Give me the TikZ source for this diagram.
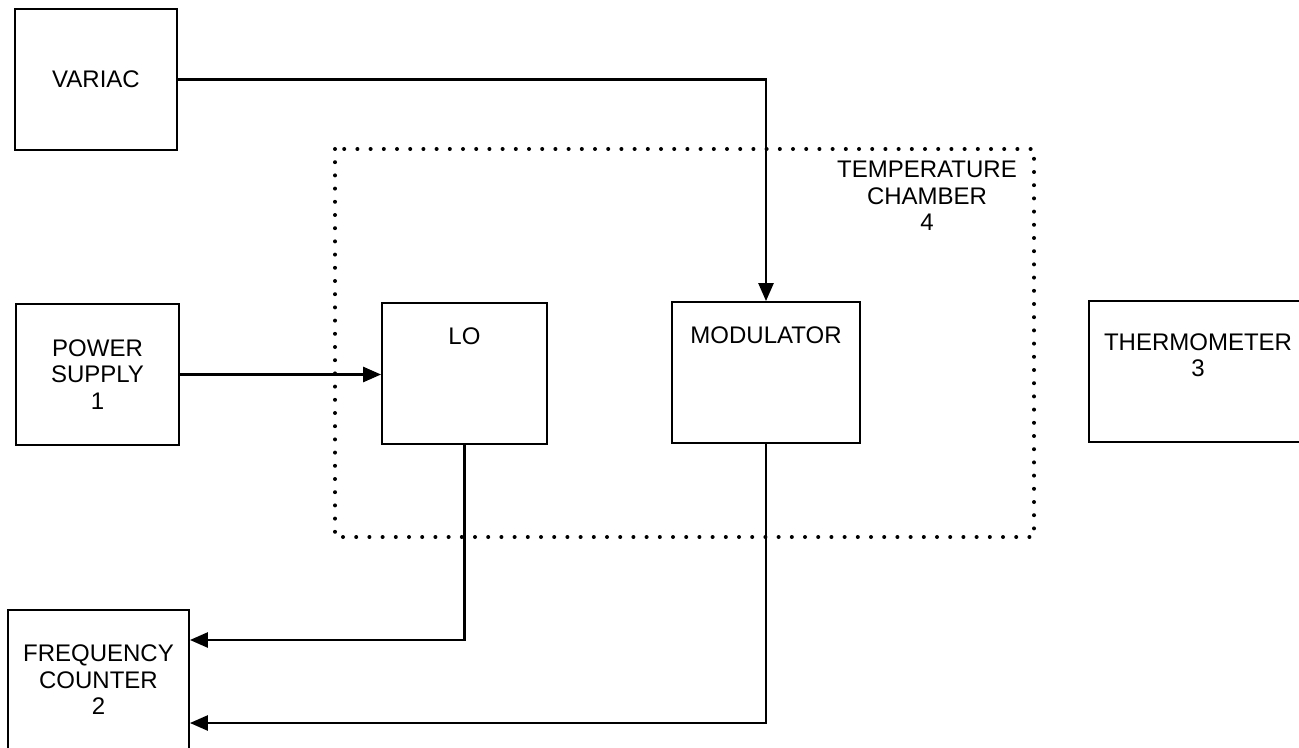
\documentclass[tikz,border=0pt]{standalone}
\usepackage{fontspec}
\setmainfont{Liberation Sans}
\usetikzlibrary{arrows.meta,positioning}
\tikzset{
    block/.style={draw, line width=0.9pt, inner sep=0pt, align=center, minimum height=70.5pt},
    toplabel/.style={anchor=north, inner sep=0pt, align=center},
    wire/.style={draw, line width=1.3pt, -{Triangle[length=9pt,width=7.5pt]}},
    chamber/.style={draw, line width=2pt, line cap=round, dash pattern=on 0pt off 6.6pt},
}
\begin{document}
\begin{tikzpicture}[x=0.5pt, y=-0.5pt, font=\fontsize{12}{13.3}\selectfont]
    \useasboundingbox (0,0) rectangle (1299,748);

    % temperature chamber
    \draw[chamber] (335,149) rectangle (1034,537);
    \node (chamberlbl) [align=center] at (927,196) {TEMPERATURE\\CHAMBER\\4};

    \node (variac) [block, minimum width=81pt] at (96,79.5) {VARIAC};
    \node (supply) [block, minimum width=81.5pt] at (97.5,374.5) {POWER\\SUPPLY\\1};
    \node (lo) [block, minimum width=82.5pt,
        label={[toplabel, yshift=-12.5pt]north:LO}] at (464.5,373.5) {};
    \node (mod) [block, minimum width=94pt,
        label={[toplabel, yshift=-12.5pt]north:MODULATOR}] at (766,372.5) {};
    \node (thermo) [block, minimum width=109pt,
        label={[toplabel, yshift=-16.5pt]north:THERMOMETER\\3}] at (1198,371.5) {};
    \node (counter) [block, minimum width=90.5pt, minimum height=70pt] at (98.5,680) {FREQUENCY\\COUNTER\\2};

    \path[wire] (variac) -| (mod);
    \path[wire] (supply.east) -- (supply.east -| lo.west);
    \path[wire] (lo.south) |- ([yshift=20pt]counter.east);
    \path[wire] (mod.south) |- ([yshift=-21.5pt]counter.east);
\end{tikzpicture}
\end{document}
